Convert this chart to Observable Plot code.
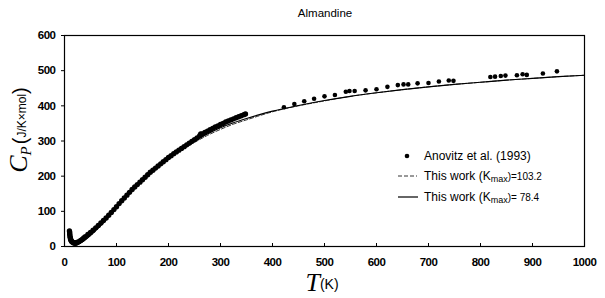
<!DOCTYPE html>
<html><head><meta charset="utf-8">
<script src="https://cdn.jsdelivr.net/npm/d3@7"></script>
<script src="https://cdn.jsdelivr.net/npm/@observablehq/plot@0.6"></script>
<style>
body{margin:0;background:#fff}
#chart{position:relative;width:605px;height:298px}
#chart svg g[aria-label$="tick label"] text{font-weight:700 !important;font-family:"Liberation Sans",Arial,sans-serif;letter-spacing:-0.5px}
</style>
</head><body><div id="chart"></div>
<script>
const title = "Almandine";
const xTicks = [0,100,200,300,400,500,600,700,800,900,1000];
const yTicks = [0,100,200,300,400,500,600];

// low-temperature calorimetric data (dense band)
const lowT  = [9.5,10,10,10.5,11,11.5,12,13,14,15,17,19,21,23,25,28,31,34,37,40,45,50,55,60,65,70,75,80,85,90,95,100,105,110,115,120,125,130,135,140,145,150,155,160,165,170,175,180,185,190,195,200,205,210,215,220,225,230,235,240,245,250,255,260,262,265,270,275,280,285,290,295,300,305,310,315,320,325,330,335,340,345,348];
const lowCp = [44,40,35,30,26,22,19,16,14,13,11,10,10,11,12,14,17,20,24,28,34,40,46,53,60,67,74,81,89,97,105,113,122,130,138,146,154,162,169,176,183,190,197,204,211,217,223,229,235,241,247,253,258,264,269,274,279,284,289,294,299,304,309,315,320,320,324,328,332,336,340,343,347,350,354,357,360,363,366,369,372,375,377];

// Anovitz et al. (1993)
const anovitzT  = [422,442,461,480,500,520,541,548,558,579,600,621,641,652,661,679,700,720,739,748,819,828,839,848,870,881,889,920,947];
const anovitzCp = [396,405,413,420,427,431,440,442,442,444,447,454,459,461,461,464,465,469,472,471,482,483,485,486,487,490,488,492,498];

// model curves
const modelT      = [15,20,25,30,40,50,60,70,80,90,100,120,140,160,180,200,225,250,275,300,325,350,375,400,450,500,550,600,650,700,750,800,850,900,950,1000];
const modelCp784  = [0,2,5,9,19,31,45,60,76,93,110,144,176,204,229,251,277,300,320,338,352,364,375,385,401,415,427,437,446,454,461,467,473,478,483,487];
const modelCp1032 = [0,2,5,9,19,31,45,60,76,93,110,143,174,202,227,249,274,296,316,333,348,360,372,383,400,414,427,437,446,454,461,467,473,478,483,487];

const legendLabels = [
  {text: "Anovitz et al. (1993)"},
  {text: "This work (K", sub: "max", tail: ")=103.2"},
  {text: "This work (K", sub: "max", tail: ")= 78.4"}
];

const lowData = lowT.map((t,i)=>({T:t, Cp:lowCp[i]}));
const anoData = anovitzT.map((t,i)=>({T:t, Cp:anovitzCp[i]}));
const m784 = modelT.map((t,i)=>({T:t, Cp:modelCp784[i]}));
const m1032 = modelT.map((t,i)=>({T:t, Cp:modelCp1032[i]}));

const chart = Plot.plot({
  width: 605, height: 298,
  marginLeft: 64, marginRight: 21, marginTop: 35, marginBottom: 52,
  style: {fontFamily: "Liberation Sans, Arial, sans-serif", fontSize: "11.5px", background: "#fff"},
  x: {domain: [0,1000]},
  y: {domain: [0,600]},
  marks: [
    Plot.frame({stroke: "#000", strokeWidth: 1.2}),
    Plot.axisY({ticks: yTicks, tickSize: 3, tickPadding: 6, label: null, tickFormat: d => String(d)}),
    Plot.axisX({ticks: xTicks, tickSize: 0, tickPadding: 11, label: null, tickFormat: d => String(d)}),
    Plot.axisX({ticks: xTicks, tickSize: 3, dy: -3, tickFormat: () => "", label: null}),
    Plot.line(m1032, {x: "T", y: "Cp", stroke: "#000", strokeWidth: 0.8, strokeDasharray: "4,2", curve: "monotone-x"}),
    Plot.line(m784, {x: "T", y: "Cp", stroke: "#000", strokeWidth: 1.1, curve: "monotone-x"}),
    Plot.dot(lowData, {x: "T", y: "Cp", r: 2.7, fill: "#000", stroke: null}),
    Plot.dot(anoData, {x: "T", y: "Cp", r: 2.3, fill: "#000", stroke: null})
  ]
});
document.getElementById("chart").appendChild(chart);

const svg = d3.select(chart);

// title
svg.append("text").attr("x", 325).attr("y", 17).attr("text-anchor", "middle")
  .attr("font-family", "Liberation Sans, Arial, sans-serif").attr("font-size", 11.5).text(title);

// y label
const yl = svg.append("text").attr("transform", "translate(27,130) rotate(-90)")
  .attr("text-anchor", "middle").attr("font-family", "Liberation Sans, Arial, sans-serif");
yl.append("tspan").attr("font-family", "Liberation Serif, serif").attr("font-style", "italic").attr("font-size", 26).text("C");
yl.append("tspan").attr("font-family", "Liberation Serif, serif").attr("font-style", "italic").attr("font-size", 15).attr("dy", 4).text("P");
yl.append("tspan").attr("font-size", 20).attr("dy", -4).attr("dx", 2).text("(");
yl.append("tspan").attr("font-size", 12).attr("dy", -1).text("J/K×mol");
yl.append("tspan").attr("font-size", 20).attr("dy", 1).text(")");

// x label
const xl = svg.append("text").attr("x", 322).attr("y", 291).attr("text-anchor", "middle")
  .attr("font-family", "Liberation Sans, Arial, sans-serif");
xl.append("tspan").attr("font-family", "Liberation Serif, serif").attr("font-style", "italic").attr("font-size", 26).text("T");
xl.append("tspan").attr("font-size", 14).attr("dy", -2).text("(K)");

// legend
const lg = svg.append("g").attr("font-family", "Liberation Sans, Arial, sans-serif")
  .attr("font-size", 12).attr("text-anchor", "start");
const rows = [156, 176, 197];
lg.append("circle").attr("cx", 407).attr("cy", rows[0]).attr("r", 2.3).attr("fill", "#000");
lg.append("line").attr("x1", 398).attr("x2", 417).attr("y1", rows[1]).attr("y2", rows[1])
  .attr("stroke", "#000").attr("stroke-width", 0.8).attr("stroke-dasharray", "4,2");
lg.append("line").attr("x1", 398).attr("x2", 418).attr("y1", rows[2]).attr("y2", rows[2])
  .attr("stroke", "#000").attr("stroke-width", 1.2);
legendLabels.forEach((d, i) => {
  const t = lg.append("text").attr("x", 424).attr("y", rows[i] + 4).attr("text-anchor", "start");
  t.append("tspan").text(d.text);
  if (d.sub) {
    t.append("tspan").attr("font-size", 9).attr("dy", 2).text(d.sub);
    t.append("tspan").attr("font-size", 10).attr("dy", -2).text(d.tail);
  }
});
</script>
</body></html>
